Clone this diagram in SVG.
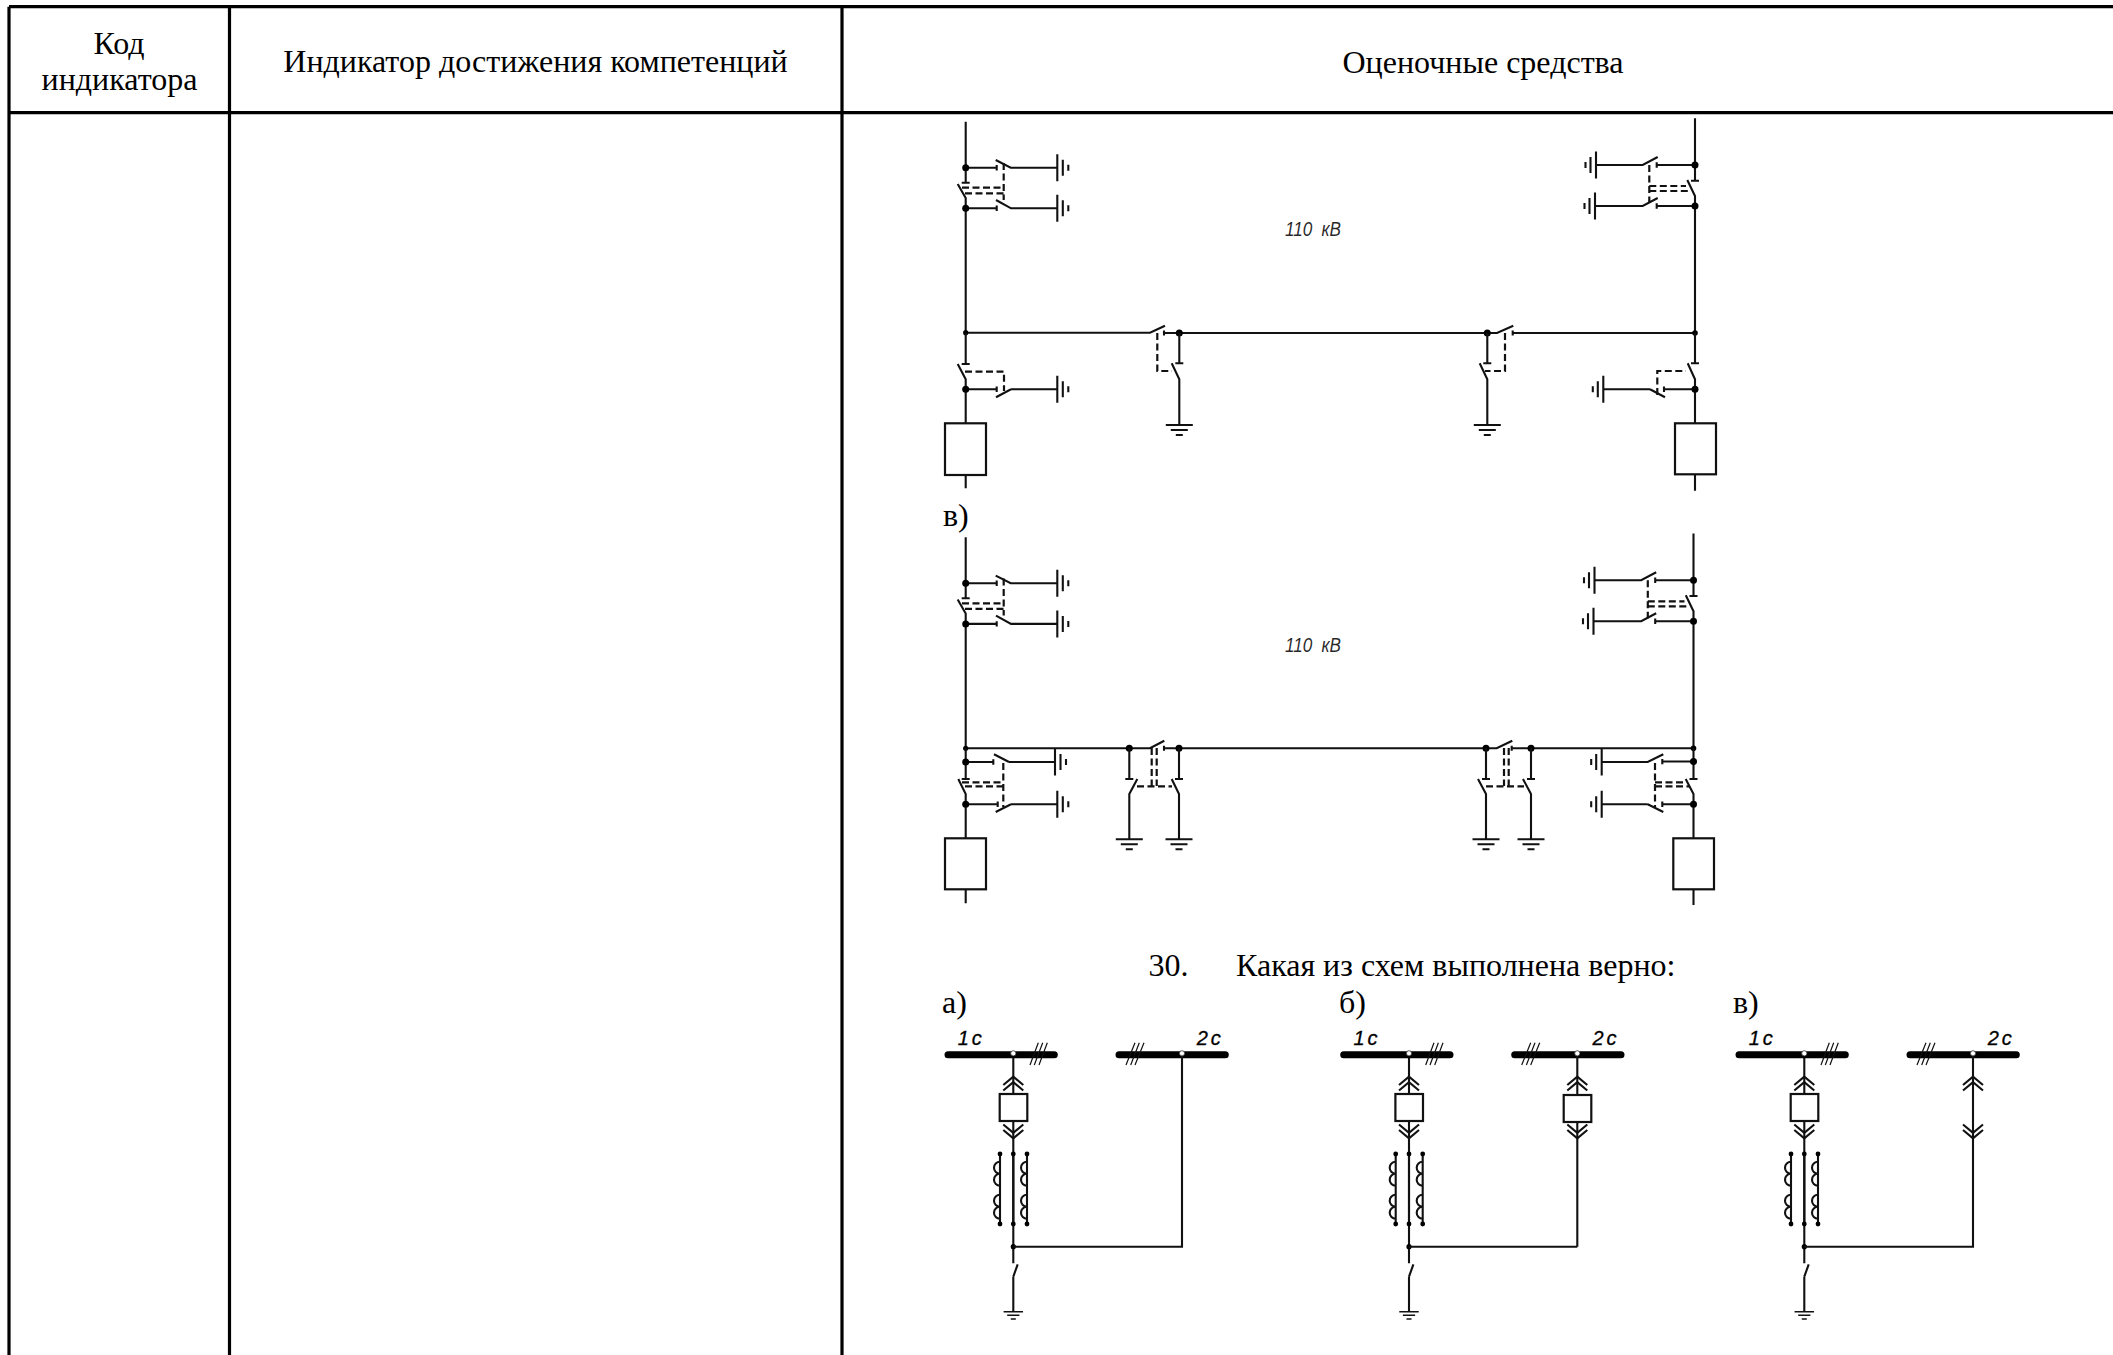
<svg xmlns="http://www.w3.org/2000/svg" xmlns:xlink="http://www.w3.org/1999/xlink" width="2113" height="1355" viewBox="0 0 2113 1355">
<style>
.s{font-family:"Liberation Serif","Times New Roman",serif;font-size:32px;fill:#000}
.k{font-family:"Liberation Sans",Arial,sans-serif;font-style:italic;fill:#000}
.t{fill:none;stroke:#000;stroke-width:3.2}
.l{fill:none;stroke:#111;stroke-width:2.1}
.d{fill:none;stroke:#111;stroke-width:2.2;stroke-dasharray:7 3.5}
.h{fill:none;stroke:#111;stroke-width:1.2}
.n{fill:#000}
.w{fill:#fff;stroke:#333;stroke-width:.8}
.b{fill:none;stroke:#000;stroke-width:7;stroke-linecap:round}
.r{fill:#fff;stroke:#111;stroke-width:2.2}
</style>
<defs>
<g id="gr" class="l"><path d="M0-13.5V13.5M5.5-8V8M11-3V3"/></g>
<g id="gl" class="l"><path d="M0-13.5V13.5M-5.5-8V8M-10.5-3V3"/></g>
<g id="gd" class="l"><path d="M-13.5 0H13.5M-8.5 5H8.5M-3.5 10H3.5"/></g>
<g id="cu" class="l"><path d="M-10 8.3L0 0L10 8.3M-10 13.8L0 5.5L10 13.8"/></g>
<g id="cd" class="l"><path d="M-10-8.3L0 0L10-8.3M-10-13.8L0-5.5L10-13.8"/></g>
<g id="tl">
<path class="l" d="M965.7 121.7V182.7M961.7 182.7H969.7M957.7 184L965.7 198V332.7M965.7 167.7H996.7M996.7 165V170.4M995.7 160L1010.7 167.7H1057.3M965.7 208.3H996.7M996.7 205.6V211M996 200L1011 208.3H1057.3"/>
<path class="d" d="M962 187.7H1003.7M965 193.3H1003.7M1003.7 163V200"/>
<circle class="n" cx="965.7" cy="167.7" r="3.5"/><circle class="n" cx="965.7" cy="208.3" r="3.5"/>
<use href="#gr" x="1057.3" y="167.7"/><use href="#gr" x="1057.3" y="208.3"/>
</g>
<g id="tr">
<path class="l" d="M1695 118.3V180.7M1691 180.7H1699M1687.3 180L1695 196V333M1695 165H1656.7M1656.7 162.3V167.7M1657.7 157L1642.7 165H1596M1695 206H1656.7M1656.7 203.3V208.7M1657.7 198L1642.7 206H1595"/>
<path class="d" d="M1649.3 165V203M1649.3 186H1686M1649.3 191H1690"/>
<circle class="n" cx="1695" cy="165" r="3.5"/><circle class="n" cx="1695" cy="206" r="3.5"/>
<use href="#gl" x="1596" y="165"/><use href="#gl" x="1595" y="206"/>
</g>
<g id="coil" class="l"><path d="M0 0A6 6 0 0 0 0 12A6 6 0 0 0 0 24M0 33A6 6 0 0 0 0 45A6 6 0 0 0 0 57"/></g>
<g id="left">
<path class="l" d="M1013.3 1054V1094M1013.3 1121V1246.7V1263.3M1013.3 1276.7L1017.7 1264.3M1013.3 1276.7V1311.7"/>
<path class="l" d="M1013.3 1154V1224M1000 1154V1224M1027 1154V1224"/>
<path class="b" d="M948 1054.7H1054.3"/>
<path class="h" d="M1030 1065L1038.3 1042.7M1034.3 1065L1042.7 1042.7M1039 1065L1047.3 1042.7"/>
<rect class="r" x="999.7" y="1094" width="27.6" height="27"/>
<use href="#cu" x="1013.3" y="1076.7"/><use href="#cd" x="1013.3" y="1138.3"/>
<use href="#coil" x="1000" y="1161.7"/><use href="#coil" x="1027" y="1161.7"/>
<use href="#gd" x="1013.3" y="1311.7" transform="translate(1013.3 1311.7) scale(.72) translate(-1013.3 -1311.7)"/>
<circle class="n" cx="1000" cy="1154" r="2.4"/><circle class="n" cx="1013.3" cy="1154" r="2.4"/><circle class="n" cx="1027" cy="1154" r="2.4"/>
<circle class="n" cx="1000" cy="1224" r="2.4"/><circle class="n" cx="1013.3" cy="1224" r="2.4"/><circle class="n" cx="1027" cy="1224" r="2.4"/>
<circle class="n" cx="1013.3" cy="1246.7" r="2.6"/>
<circle class="w" cx="1013.3" cy="1053.3" r="2.6"/>
<text class="k" x="957.7" y="1045" font-size="20" letter-spacing="3" stroke="#000" stroke-width=".3">1с</text>
<text class="k" x="1196.7" y="1045" font-size="20" letter-spacing="3" stroke="#000" stroke-width=".3">2с</text>
<path class="b" d="M1119 1054.7H1225.3"/>
<path class="h" d="M1126 1065L1135 1042.7M1130.7 1065L1139.3 1042.7M1135 1065L1144 1042.7"/>
</g>
</defs>

<g id="table">
<path class="t" d="M9 6.7H2113M9 112.7H2113M9 6.7V1355M229.5 6.7V1355M842 6.7V1355"/>
</g>
<g id="headers">
<text class="s" x="119" y="54" text-anchor="middle">Код</text>
<text class="s" x="119.5" y="90" text-anchor="middle">индикатора</text>
<text class="s" x="535.5" y="72" text-anchor="middle">Индикатор достижения компетенций</text>
<text class="s" x="1483" y="72.5" text-anchor="middle">Оценочные средства</text>
</g>

<g id="scheme-upper">
<use href="#tl"/><use href="#tr"/>
<path class="l" d="M965.7 332.7H1150L1165 325.7M1164 333H1497L1513.3 325.7M1512.7 333H1695"/>
<path class="l" d="M1164 330.5V335.5M1512.7 330.5V335.5"/>
<circle class="n" cx="965.7" cy="332.7" r="2.6"/><circle class="n" cx="1695" cy="333" r="2.8"/>
<circle class="n" cx="1179.3" cy="333" r="3.5"/><circle class="n" cx="1487.3" cy="333" r="3.5"/>
<path class="l" d="M1179.3 333V363.3M1175.3 363.3H1183.3M1171.7 363.3L1179.3 379.3V425M1487.3 333V363.3M1483.3 363.3H1491.3M1479.7 363.3L1487.3 379.3V425"/>
<use href="#gd" x="1179.3" y="425"/><use href="#gd" x="1487.3" y="425"/>
<path class="d" d="M1157.3 333V371H1172M1505 333V371H1485"/>
<path class="l" d="M965.7 332.7V364M961.7 364H969.7M957.7 364L965.7 379.3V423.3M965.7 389.3H996.7M996.7 386.6V392M1011 389.3L996 397.3M1011 389.3H1057.3M965.7 475V488.3"/>
<path class="d" d="M965 371.7H1004V391"/>
<circle class="n" cx="965.7" cy="389.3" r="3.5"/>
<use href="#gr" x="1057.3" y="389.3"/>
<rect class="r" x="945" y="423.3" width="41" height="51.7"/>
<path class="l" d="M1695 333V363.3M1691 363.3H1699M1687.7 363.3L1695 379.3V423.3M1695 389.3H1664M1664 386.6V392M1650 389.3L1665 397.3M1650 389.3H1603.3M1695 474.3V490.7"/>
<path class="d" d="M1657.3 395V371H1686"/>
<circle class="n" cx="1695" cy="389.3" r="3.5"/>
<use href="#gl" x="1603.3" y="389.3"/>
<rect class="r" x="1675" y="423.3" width="41" height="51"/>
<text class="k" x="1285" y="236" font-size="20" word-spacing="5" fill-opacity=".85" textLength="56" lengthAdjust="spacingAndGlyphs">110 кВ</text>
</g>

<text id="label-v1" class="s" x="943" y="526">в)</text>

<g id="scheme-lower">
<use href="#tl" y="415.6"/><use href="#tr" x="-1.5" y="415.3"/>
<path class="l" d="M965.7 748.3H1150L1164.3 740.7M1164 748.3H1496.7L1512.3 740.7M1511.7 748.3H1693.5M1164 745.8V750.8M1511.7 745.8V750.8"/>
<circle class="n" cx="965.7" cy="748.3" r="2.6"/><circle class="n" cx="1693.5" cy="748.3" r="2.8"/>
<circle class="n" cx="1129.3" cy="748.3" r="3.5"/><circle class="n" cx="1179" cy="748.3" r="3.5"/>
<circle class="n" cx="1486" cy="748.3" r="3.5"/><circle class="n" cx="1531" cy="748.3" r="3.5"/>
<path class="l" d="M965.7 748.3V779M961.7 779H969.7M958.3 779L965.7 794V838.3M965.7 762H993.3M993.3 759.3V764.7M1009 762L994 754.3M1009 762H1055M965.7 804.3H997.7M997.7 801.6V807M1011 804.3L995.7 812M1011 804.3H1057.3M965.7 889.3V903.3"/>
<path class="d" d="M962 782.3H1003M965 786.3H1003.3M1003.3 763V807"/>
<circle class="n" cx="965.7" cy="762" r="3.5"/><circle class="n" cx="965.7" cy="804.3" r="3.5"/>
<use href="#gr" x="1055" y="762"/><use href="#gr" x="1057.3" y="804.3"/>
<rect class="r" x="945" y="838.3" width="41" height="51"/>
<path class="l" d="M1129.3 748.3V779M1125.3 779H1133.3M1137.3 779L1129.3 794V839.3M1179 748.3V779M1175 779H1183M1171.7 779L1179 794V839.3"/>
<use href="#gd" x="1129.3" y="839.3"/><use href="#gd" x="1179" y="839.3"/>
<path class="d" d="M1151.7 748V786M1156.7 748V786M1137 786.3H1172"/>
<path class="l" d="M1486 748.3V779M1482 779H1490M1478 779L1486 794V839.3M1531 748.3V779M1527 779H1535M1523 779L1531 794V839.3"/>
<use href="#gd" x="1486" y="839.3"/><use href="#gd" x="1531" y="839.3"/>
<path class="d" d="M1504 748V786M1508.7 748V786M1486 786.3H1524"/>
<path class="l" d="M1693.5 748.3V779M1689.5 779H1697.5M1685.7 779L1693.5 794V838.3M1693.5 761.5H1662.3M1662.3 759V764.3M1663.3 754.3L1647.7 762H1601.7M1693.5 804.3H1662.3M1662.3 801.6V807M1647.7 804.3L1663.3 812M1647.7 804.3H1601.7M1693.5 889.3V905"/>
<path class="d" d="M1655 763V807M1655 782.3H1686M1655 786.3H1690"/>
<circle class="n" cx="1693.5" cy="761.5" r="3.5"/><circle class="n" cx="1693.5" cy="804.3" r="3.5"/>
<use href="#gl" x="1601.7" y="762"/><use href="#gl" x="1601.7" y="804.3"/>
<rect class="r" x="1673.3" y="838.3" width="40.7" height="51"/>
<text class="k" x="1285" y="651.6" font-size="20" word-spacing="5" fill-opacity=".85" textLength="56" lengthAdjust="spacingAndGlyphs">110 кВ</text>
</g>

<g id="question">
<text class="s" x="1148.5" y="976">30.</text>
<text class="s" x="1236" y="976">Какая из схем выполнена верно:</text>
<text class="s" x="942" y="1012.5">а)</text>
<text class="s" x="1339" y="1012.5">б)</text>
<text class="s" x="1733" y="1012.5">в)</text>
</g>

<g id="scheme-a">
<use href="#left"/>
<path class="l" d="M1013.3 1246.7H1182V1053.3"/>
<circle class="w" cx="1182" cy="1053.3" r="2.6"/>
</g>
<g id="scheme-b">
<use href="#left" x="395.7"/>
<path class="l" d="M1409 1246.7H1577.3M1577.3 1246.7V1122M1577.3 1095V1053.3"/>
<rect class="r" x="1563.7" y="1095" width="27.6" height="27"/>
<use href="#cu" x="1577.3" y="1076.7"/><use href="#cd" x="1577.3" y="1138.3"/>
<circle class="w" cx="1577.3" cy="1053.3" r="2.6"/>
</g>
<g id="scheme-c">
<use href="#left" x="791"/>
<path class="l" d="M1804.3 1246.7H1973V1053.3"/>
<use href="#cu" x="1973" y="1076.7"/><use href="#cd" x="1973" y="1138.3"/>
<circle class="w" cx="1973" cy="1053.3" r="2.6"/>
</g>
</svg>
